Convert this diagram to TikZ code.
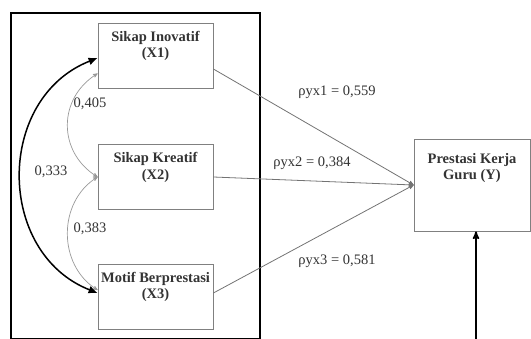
\documentclass[tikz,border=0pt]{standalone}
\usepackage{fontspec}
\setmainfont{Liberation Serif}
\usetikzlibrary{arrows,arrows.meta,calc}
\definecolor{boxgray}{gray}{0.5}
\definecolor{linegray}{gray}{0.45}
\definecolor{corrgray}{gray}{0.6}
\definecolor{txt}{gray}{0.2}

\begin{document}
\begin{tikzpicture}[x=1pt,y=-1pt,>=stealth',
      varbox/.style={draw=boxgray,line width=0.8pt,minimum width=115pt,
        minimum height=65pt,inner sep=0pt},
      vartext/.style={font=\fontsize{14.5}{16.5}\selectfont\bfseries,
        text=txt,align=center,anchor=north},
      coef/.style={font=\fontsize{14.5}{16.5}\selectfont,text=txt},
      effect/.style={->,draw=linegray,line width=0.8pt},
      corr/.style={<->,draw=corrgray,line width=0.7pt}]
      \useasboundingbox (0,0) rectangle (531,338);

      \node[draw,line width=2pt,minimum width=249pt,minimum height=326pt,
        inner sep=0pt] (outer) at (135.5,176) {};

      \node[varbox,label={[vartext,yshift=-5pt]north:{Sikap Inovatif\\(X1)}}]
        (x1) at (155.5,55.5) {};
      \node[varbox,label={[vartext,yshift=-5pt]north:{Sikap Kreatif\\(X2)}}]
        (x2) at (155.5,177) {};
      \node[varbox,label={[vartext,yshift=-5pt]north:{Motif Berprestasi\\(X3)}}]
        (x3) at (155.5,296.5) {};
      \node[varbox,minimum width=116pt,minimum height=92pt,
        label={[vartext,yshift=-11pt]north:{Prestasi Kerja\\Guru (Y)}}]
        (y) at (472,185) {};

      \draw[effect] ([yshift=-13.5pt]x1.east) -- (y.west);
      \draw[effect] (x2.east) -- (y.west);
      \draw[effect] ([yshift=3.5pt]x3.east) -- (y.west);
      \node[coef] (pyx1) at (337,92) {ρyx1 = 0,559};
      \node[coef] (pyx2) at (312,163) {ρyx2 = 0,384};
      \node[coef] (pyx3) at (337,261) {ρyx3 = 0,581};

      \draw[corr] ([yshift=-18pt]x1.west) .. controls +(-40,25) and +(-40,-25) .. (x2.west);
      \draw[corr] (x2.west) .. controls +(-40,25) and +(-40,-25) .. ([yshift=6.5pt]x3.west);
      \draw[{Latex[length=9pt,width=8pt]}-{Latex[length=9pt,width=8pt]},line width=1.5pt]
        ([yshift=-2.5pt]x1.west)
        .. controls +(-102,40) and +(-102,-40) .. ([yshift=3.5pt]x3.west);
      \node[coef] (r405) at (90,104) {0,405};
      \node[coef] (r383) at (90,229) {0,383};
      \node[coef] (r333) at (51,172) {0,333};

      \draw[->,line width=1.6pt] (outer.south east) -| ([xshift=4pt]y.south);
\end{tikzpicture}
\end{document}
